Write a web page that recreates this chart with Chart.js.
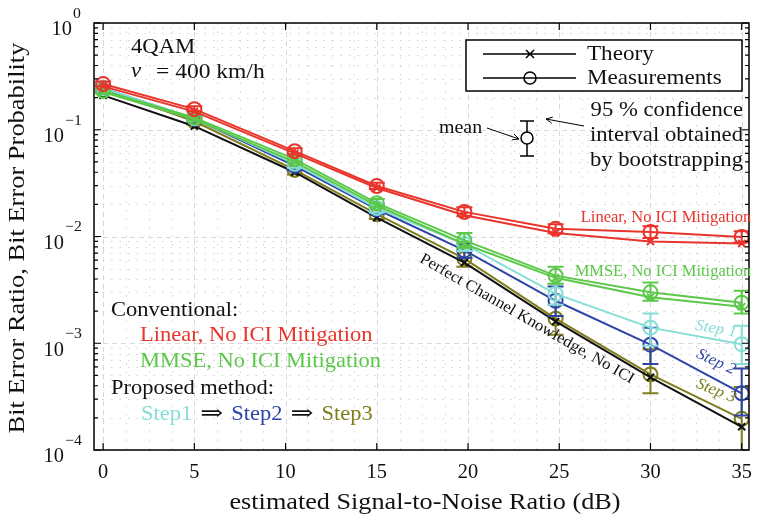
<!DOCTYPE html>
<html>
<head>
<meta charset="utf-8">
<script src="https://cdn.jsdelivr.net/npm/chart.js@4.4.0/dist/chart.umd.min.js"></script>
<style>
  body { margin: 0; background: #fff; }
  #wrap { width: 758px; height: 520px; }
</style>
</head>
<body>
<div id="wrap"><canvas id="ber" width="758" height="520"></canvas></div>
<script>
// estimated SNR (dB)
const snr = [0, 5, 10.5, 15, 19.8, 24.8, 30, 35];

// theory curves
const linTheory = [0.255, 0.148, 0.060, 0.0285, 0.0158, 0.0108, 0.0090, 0.0086];
const mmseTheory = [0.225, 0.125, 0.050, 0.0195, 0.0085, 0.0041, 0.0027, 0.0022];
const perfectTheory = [0.21, 0.108, 0.040, 0.015, 0.0057, 0.0016, 0.00048, 0.000165];

// measurements + 95% bootstrap intervals
const linMeas = [0.268, 0.156, 0.063, 0.0297, 0.017, 0.0118, 0.011, 0.0099];
const linLow = [0.255, 0.148, 0.059, 0.0278, 0.0155, 0.0107, 0.0097, 0.0088];
const linHigh = [0.283, 0.166, 0.067, 0.0318, 0.0188, 0.013, 0.0125, 0.0112];

const mmseMeas = [0.232, 0.13, 0.053, 0.0205, 0.0092, 0.0043, 0.0030, 0.0024];
const mmseLow = [0.22, 0.122, 0.049, 0.0188, 0.0078, 0.0036, 0.0025, 0.0019];
const mmseHigh = [0.245, 0.138, 0.057, 0.0224, 0.0108, 0.0052, 0.0037, 0.0031];

const step1Meas = [0.245, 0.128, 0.048, 0.0185, 0.0085, 0.0029, 0.0014, 0.00098];
const step1Low = [0.232, 0.12, 0.044, 0.0168, 0.0073, 0.0023, 0.00095, 0.00064];
const step1High = [0.258, 0.136, 0.052, 0.0203, 0.0098, 0.0036, 0.0019, 0.00146];

const step2Meas = [0.245, 0.127, 0.046, 0.018, 0.0074, 0.0025, 0.00097, 0.00034];
const step2Low = [0.232, 0.119, 0.042, 0.0163, 0.0063, 0.0018, 0.00064, 0.00021];
const step2High = [0.258, 0.135, 0.050, 0.0198, 0.0086, 0.0034, 0.0014, 0.00058];

const step3Meas = [0.24, 0.12, 0.042, 0.0162, 0.0062, 0.0017, 0.00051, 0.000196];
const step3Low = [0.227, 0.112, 0.038, 0.0146, 0.0052, 0.0012, 0.00034, 0.00005];
const step3High = [0.253, 0.128, 0.046, 0.018, 0.0073, 0.0023, 0.00088, 0.00039];

const xTicks = [0, 5, 10, 15, 20, 25, 30, 35];
const yDecades = [0, -1, -2, -3, -4];

const RED = '#e8342b', GREEN = '#5cc84a', CYAN = '#86ded6', BLUE = '#2e44a6', OLIVE = '#7f7d1c', BLACK = '#111';
const SERIF = '"Liberation Serif", "DejaVu Serif", serif';

function pts(ys) {
    return snr.map((x, i) => ({ x: x, y: ys[i] }));
}

function theory(ys, color) {
    return {
        data: pts(ys), borderColor: color, backgroundColor: color, borderWidth: 2,
        pointStyle: 'crossRot', pointRadius: 5, pointBorderWidth: 2
    };
}

function meas(ys, low, high, color) {
    return {
        data: pts(ys), borderColor: color, backgroundColor: 'rgba(0,0,0,0)', borderWidth: 2,
        pointStyle: 'circle', pointRadius: 7, pointBorderWidth: 2,
        errLow: low, errHigh: high
    };
}

// text a bit wider than Times, closer to the latex font
function text(ctx, s, x, y, size, align, color, opt = {}) {
    ctx.save();
    ctx.translate(x, y);
    if (opt.rot) ctx.rotate(opt.rot * Math.PI / 180);
    ctx.scale(opt.k || 1.08, 1);
    ctx.font = (opt.italic ? 'italic ' : '') + size + 'px ' + SERIF;
    ctx.fillStyle = color;
    ctx.textAlign = align;
    ctx.textBaseline = 'middle';
    ctx.fillText(s, 0, 0);
    const w = ctx.measureText(s).width * (opt.k || 1.08);
    ctx.restore();
    return w;
}

// grid, inner ticks and box like a matlab figure
const frame = {
    id: 'frame',
    beforeDatasetsDraw(chart) {
        const { ctx, chartArea: a, scales: { x, y } } = chart;
        ctx.save();
        ctx.lineWidth = 1;
        // minor grid
        ctx.strokeStyle = '#d4d4d4';
        ctx.setLineDash([1.5, 7]);
        for (let v = 1.25; v < 35.4; v += 1.25) {
            if (v % 5 === 0) continue;
            const px = Math.round(x.getPixelForValue(v)) + 0.5;
            ctx.beginPath(); ctx.moveTo(px, a.top); ctx.lineTo(px, a.bottom); ctx.stroke();
        }
        for (let d = -4; d < 0; d++) {
            for (let m = 2; m < 10; m++) {
                const py = Math.round(y.getPixelForValue(m * Math.pow(10, d))) + 0.5;
                ctx.beginPath(); ctx.moveTo(a.left, py); ctx.lineTo(a.right, py); ctx.stroke();
            }
        }
        // major grid
        ctx.strokeStyle = '#d8d8d8';
        ctx.setLineDash([5, 4]);
        xTicks.forEach(v => {
            const px = Math.round(x.getPixelForValue(v)) + 0.5;
            ctx.beginPath(); ctx.moveTo(px, a.top); ctx.lineTo(px, a.bottom); ctx.stroke();
        });
        yDecades.forEach(d => {
            const py = Math.round(y.getPixelForValue(Math.pow(10, d))) + 0.5;
            ctx.beginPath(); ctx.moveTo(a.left, py); ctx.lineTo(a.right, py); ctx.stroke();
        });
        ctx.restore();
    },
    afterDatasetDraw(chart, args) {
        // error bars for the measurement sets
        const ds = chart.data.datasets[args.index];
        if (!ds.errLow) return;
        const { ctx, chartArea: a, scales: { x, y } } = chart;
        ctx.save();
        ctx.beginPath();
        ctx.rect(a.left, a.top, a.right - a.left, a.bottom - a.top);
        ctx.clip();
        ctx.strokeStyle = ds.borderColor;
        ctx.lineWidth = 2;
        snr.forEach((v, i) => {
            const px = x.getPixelForValue(v);
            const y1 = y.getPixelForValue(ds.errLow[i]);
            const y2 = y.getPixelForValue(ds.errHigh[i]);
            ctx.beginPath();
            ctx.moveTo(px, y1); ctx.lineTo(px, y2);
            ctx.moveTo(px - 8, y1); ctx.lineTo(px + 8, y1);
            ctx.moveTo(px - 8, y2); ctx.lineTo(px + 8, y2);
            ctx.stroke();
        });
        ctx.restore();
    },
    afterDraw(chart) {
        const { ctx, chartArea: a, scales: { x, y } } = chart;
        ctx.save();
        ctx.strokeStyle = '#000';
        ctx.lineWidth = 1.5;
        ctx.strokeRect(a.left, a.top, a.right - a.left, a.bottom - a.top);
        ctx.lineWidth = 1.2;
        ctx.beginPath();
        xTicks.forEach(v => {
            const px = x.getPixelForValue(v);
            ctx.moveTo(px, a.bottom); ctx.lineTo(px, a.bottom - 7);
            ctx.moveTo(px, a.top); ctx.lineTo(px, a.top + 7);
        });
        for (let d = -4; d <= 0; d++) {
            const py = y.getPixelForValue(Math.pow(10, d));
            ctx.moveTo(a.left, py); ctx.lineTo(a.left + 7, py);
            ctx.moveTo(a.right, py); ctx.lineTo(a.right - 7, py);
            if (d === 0) continue;
            for (let m = 2; m < 10; m++) {
                const pm = y.getPixelForValue(m * Math.pow(10, d));
                ctx.moveTo(a.left, pm); ctx.lineTo(a.left + 4, pm);
                ctx.moveTo(a.right, pm); ctx.lineTo(a.right - 4, pm);
            }
        }
        ctx.stroke();

        // x tick labels
        xTicks.forEach(v => {
            text(ctx, String(v), x.getPixelForValue(v), a.bottom + 23, 20, 'center', '#111', { k: 1.02 });
        });

        // y tick labels 10^k
        yDecades.forEach(d => {
            const py = y.getPixelForValue(Math.pow(10, d));
            const exp = d === 0 ? '0' : '\u2212' + (-d);
            const ex = d === 0 ? 73 : 65;
            text(ctx, exp, ex, py - 9, 15, 'left', '#111', { k: 1.05 });
            text(ctx, '10', ex - 1, py + 7, 20, 'right', '#111', { k: 1.02 });
        });

        // axis titles
        text(ctx, 'estimated Signal-to-Noise Ratio (dB)', 425, 503, 23, 'center', '#111', { k: 1.14 });
        text(ctx, 'Bit Error Ratio, Bit Error Probability', 18, 238, 23, 'center', '#111', { k: 1.15, rot: -90 });

        // scenario text
        text(ctx, '4QAM', 131, 47, 21, 'left', '#111');
        text(ctx, 'v', 131, 71, 21, 'left', '#111', { italic: true });
        text(ctx, '= 400 km/h', 156, 72, 21, 'left', '#111', { k: 1.12 });

        // method block bottom left
        text(ctx, 'Conventional:', 111, 310, 21, 'left', '#111', { k: 1.07 });
        text(ctx, 'Linear, No ICI Mitigation', 140, 335, 21, 'left', RED, { k: 1.07 });
        text(ctx, 'MMSE, No ICI Mitigation', 140, 361, 21, 'left', GREEN, { k: 1.07 });
        text(ctx, 'Proposed method:', 111, 388, 21, 'left', '#111', { k: 1.07 });
        let sx = 141;
        [['Step1', CYAN], ['\u21D2', '#111'], ['Step2', BLUE], ['\u21D2', '#111'], ['Step3', OLIVE]].forEach(p => {
            const isArrow = p[0] === '\u21D2';
            if (isArrow) sx += 8;
            sx += text(ctx, p[0], sx, 414, isArrow ? 22 : 21, 'left', p[1], { k: isArrow ? 1.25 : 1.07 });
            if (isArrow) sx += 8;
        });

        // curve labels
        text(ctx, 'Linear, No ICI Mitigation', 666, 218, 16, 'center', RED, { k: 1.03 });
        text(ctx, 'MMSE, No ICI Mitigation', 663, 272, 16, 'center', GREEN, { k: 1.03 });
        text(ctx, 'Step 1', 716, 329, 16, 'center', CYAN, { italic: true, rot: 10, k: 1.05 });
        text(ctx, 'Step 2', 716, 362, 16, 'center', BLUE, { italic: true, rot: 25, k: 1.05 });
        text(ctx, 'Step 3', 716, 391, 16, 'center', OLIVE, { italic: true, rot: 22, k: 1.05 });
        text(ctx, 'Perfect Channel Knowledge, No ICI', 527, 319, 16, 'center', '#111', { rot: 30, k: 1.05 });

        // legend box
        ctx.fillStyle = '#fff';
        ctx.fillRect(466, 40, 276, 51);
        ctx.strokeStyle = '#000';
        ctx.lineWidth = 1.5;
        ctx.strokeRect(466, 40, 276, 51);
        ctx.beginPath();
        ctx.moveTo(483, 54); ctx.lineTo(576, 54);
        ctx.moveTo(483, 78); ctx.lineTo(576, 78);
        ctx.moveTo(526, 50); ctx.lineTo(534, 58);
        ctx.moveTo(534, 50); ctx.lineTo(526, 58);
        ctx.stroke();
        ctx.fillStyle = '#fff';
        ctx.beginPath(); ctx.arc(530, 78, 6, 0, Math.PI * 2); ctx.fill(); ctx.stroke();
        ctx.beginPath(); ctx.moveTo(524, 78); ctx.lineTo(536, 78); ctx.stroke();
        text(ctx, 'Theory', 587, 54, 21, 'left', '#111', { k: 1.1 });
        text(ctx, 'Measurements', 587, 78, 21, 'left', '#111', { k: 1.1 });

        // error bar explanation
        ctx.beginPath();
        ctx.moveTo(527, 121); ctx.lineTo(527, 156);
        ctx.moveTo(520, 121); ctx.lineTo(534, 121);
        ctx.moveTo(520, 156); ctx.lineTo(534, 156);
        ctx.stroke();
        ctx.fillStyle = '#fff';
        ctx.beginPath(); ctx.arc(527, 138, 6, 0, Math.PI * 2); ctx.fill(); ctx.stroke();
        ctx.lineWidth = 1;
        const arrow = (x1, y1, x2, y2) => {
            const ang = Math.atan2(y2 - y1, x2 - x1);
            ctx.beginPath();
            ctx.moveTo(x1, y1); ctx.lineTo(x2, y2);
            ctx.moveTo(x2, y2); ctx.lineTo(x2 - 7 * Math.cos(ang - 0.45), y2 - 7 * Math.sin(ang - 0.45));
            ctx.moveTo(x2, y2); ctx.lineTo(x2 - 7 * Math.cos(ang + 0.45), y2 - 7 * Math.sin(ang + 0.45));
            ctx.stroke();
        };
        arrow(487, 128, 519, 139);
        arrow(584, 126, 546, 119);
        text(ctx, 'mean', 439, 128, 19, 'left', '#111', { k: 1.05 });
        text(ctx, '95 % confidence', 743, 110, 21, 'right', '#111');
        text(ctx, 'interval obtained', 743, 135, 21, 'right', '#111');
        text(ctx, 'by bootstrapping', 743, 160, 21, 'right', '#111');
        ctx.restore();
    }
};

new Chart(document.getElementById('ber'), {
    type: 'line',
    data: {
        datasets: [
            theory(linTheory, RED),
            meas(linMeas, linLow, linHigh, RED),
            theory(mmseTheory, GREEN),
            meas(mmseMeas, mmseLow, mmseHigh, GREEN),
            meas(step1Meas, step1Low, step1High, CYAN),
            meas(step2Meas, step2Low, step2High, BLUE),
            theory(perfectTheory, BLACK),
            meas(step3Meas, step3Low, step3High, OLIVE)
        ]
    },
    options: {
        responsive: false,
        animation: false,
        layout: { padding: { top: 23, right: 2, left: 0, bottom: 0 } },
        plugins: { legend: { display: false }, tooltip: { enabled: false } },
        elements: { line: { tension: 0 } },
        scales: {
            x: {
                type: 'linear', min: -0.5, max: 35.4,
                grid: { display: false },
                border: { display: false },
                ticks: { display: false },
                afterFit: s => { s.height = 70; }
            },
            y: {
                type: 'logarithmic', min: 1e-4, max: 1,
                grid: { display: false },
                border: { display: false },
                ticks: { display: false },
                afterFit: s => { s.width = 94; }
            }
        }
    },
    plugins: [frame]
});
</script>
</body>
</html>
